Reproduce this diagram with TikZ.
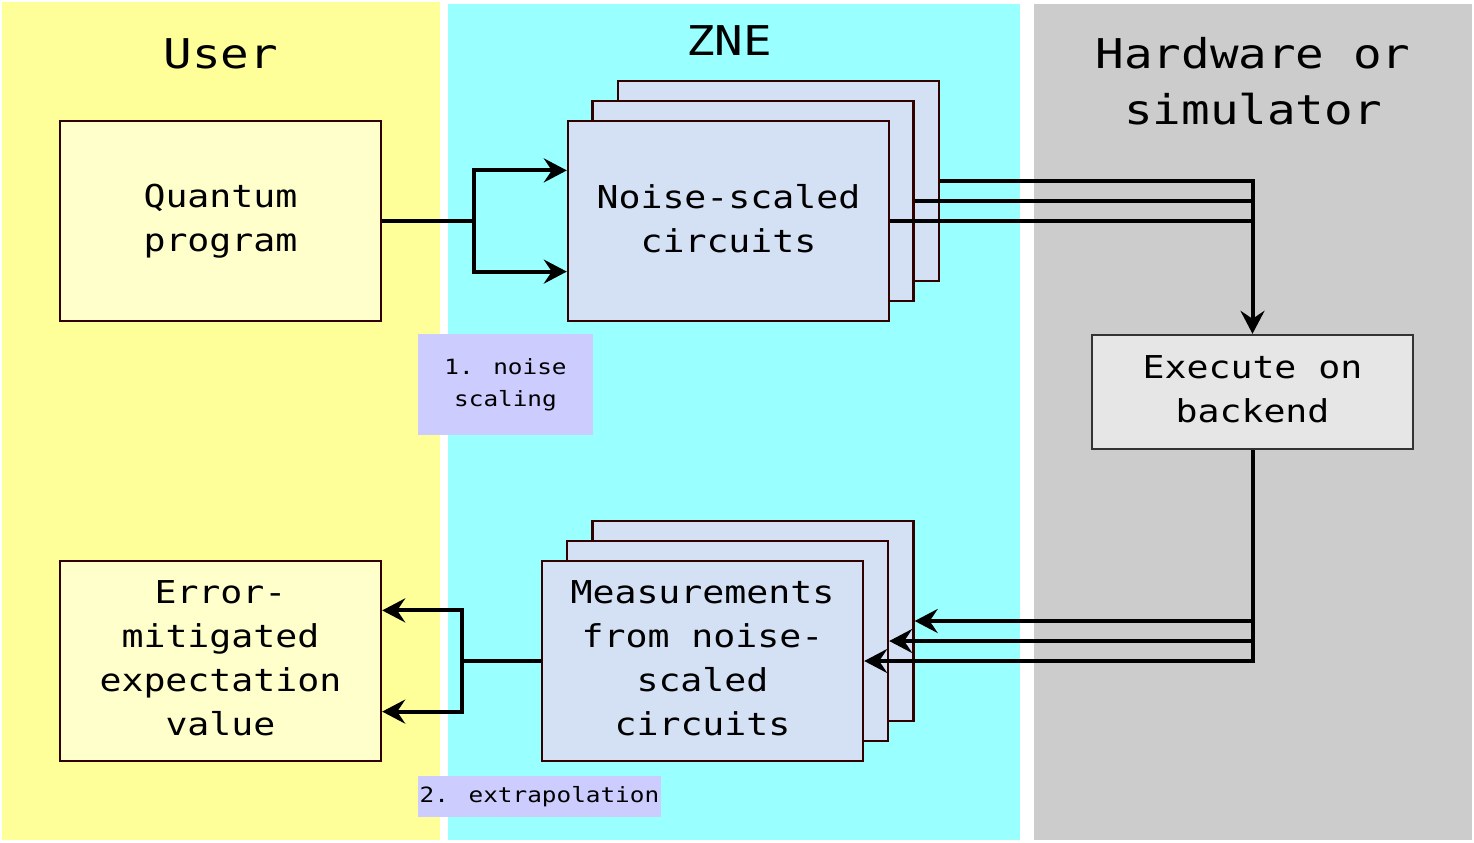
\documentclass[tikz,border=0pt]{standalone}
\usepackage{fontspec}
\newfontfamily\mono[FakeStretch=1.16]{DejaVu Sans Mono}
\usetikzlibrary{arrows.meta,calc}
\definecolor{bgyel}{HTML}{FFFF99}
\definecolor{bgcyan}{HTML}{99FFFF}
\definecolor{bggray}{HTML}{CCCCCC}
\definecolor{boxyel}{HTML}{FFFFCC}
\definecolor{boxblue}{HTML}{D4E1F5}
\definecolor{boxgray}{HTML}{E6E6E6}
\definecolor{lblfill}{HTML}{CCCCFF}
\definecolor{brd}{HTML}{330000}
\definecolor{brdgray}{HTML}{333333}
\tikzset{
  box/.style={draw=brd, line width=1.2pt, rectangle, minimum width=160.5pt, minimum height=100pt, inner sep=0pt, align=center, font={\mono\fontsize{15.75}{22}\selectfont}},
  ybox/.style={box, fill=boxyel},
  bbox/.style={box, fill=boxblue},
  gbox/.style={box, draw=brdgray, fill=boxgray, minimum height=57pt},
  lbl/.style={fill=lblfill, inner sep=0pt, align=center, font={\mono\fontsize{10.5}{16}\selectfont}},
  title/.style={align=center, inner sep=0pt, font={\mono\fontsize{20.5}{28}\selectfont}},
  conn/.style={line width=2pt, black},
  arr/.style={conn, -{Stealth[length=11.5pt, width=12pt, inset=4pt]}},
}
\begin{document}
\begin{tikzpicture}[x=0.5pt, y=-0.5pt]
\useasboundingbox (0,0) rectangle (1474,842);
\fill[white] (0,0) rectangle (1474,842);
% lanes
\fill[bgyel] (2,2) rectangle (440,840);
\fill[bgcyan] (448,4) rectangle (1020,840);
\fill[bggray] (1034,4) rectangle (1472,840);
% titles
\node[title, anchor=base] (tuser) at (221,68) {User};
\node[title, anchor=base] (tzne) at (729,55) {ZNE};
\node[title, anchor=base] (thw) at (1253,124) {Hardware or\\simulator};
% user boxes
\node[ybox] (qp) at (220.5,221) {Quantum\\program\rule[-3pt]{0pt}{0pt}};
\node[ybox] (err) at (220.5,661) {Error-\\mitigated\\expectation\\value\rule[-3pt]{0pt}{0pt}};
% noise-scaled stack
\node[bbox] (ns3) at (778.5,181) {};
\node[bbox] (ns2) at (753,201) {};
\node[bbox] (ns1) at (728.5,221) {Noise-scaled\\circuits\rule[-3pt]{0pt}{0pt}};
% measurement stack
\node[bbox] (ms3) at (753,621) {};
\node[bbox] (ms2) at (727.5,641) {};
\node[bbox] (ms1) at (702.5,661) {Measurements\\from noise-\\scaled\\circuits\rule[-3pt]{0pt}{0pt}};
% backend
\node[gbox] (exec) at (1252.5,392) {Execute on\\backend\rule[-3pt]{0pt}{0pt}};
% step labels
\node[lbl, minimum width=87.5pt, minimum height=50.5pt] (l1) at (505.5,384.5) {1. noise\\scaling};
\node[lbl, minimum width=121.5pt, minimum height=20.5pt] (l2) at (539.5,796.5) {2. extrapolation};
% connectors: program -> noise-scaled circuits
\coordinate (j1) at (474,221);
\draw[conn] (qp.east) -- (j1);
\draw[arr] (j1) |- ($(ns1.north west)!0.25!(ns1.south west)$);
\draw[arr] (j1) |- ($(ns1.north west)!0.75!(ns1.south west)$);
% circuits -> backend
\draw[conn] (ns1.east) -- (ns1.east -| exec.north);
\draw[conn] (ns2.east) -- (ns2.east -| exec.north);
\draw[arr] (ns3.east) -| (exec.north);
% backend -> measurements
\draw[arr] (exec.south) |- (ms1.east);
\draw[arr] (exec.south |- ms2.east) -- (ms2.east);
\draw[arr] (exec.south |- ms3.east) -- (ms3.east);
% measurements -> result
\coordinate (j2) at (462,661);
\draw[conn] (ms1.west) -- (j2);
\draw[arr] (j2) |- ($(err.north east)!0.25!(err.south east)$);
\draw[arr] (j2) |- ($(err.north east)!0.75!(err.south east)$);
\end{tikzpicture}
\end{document}
